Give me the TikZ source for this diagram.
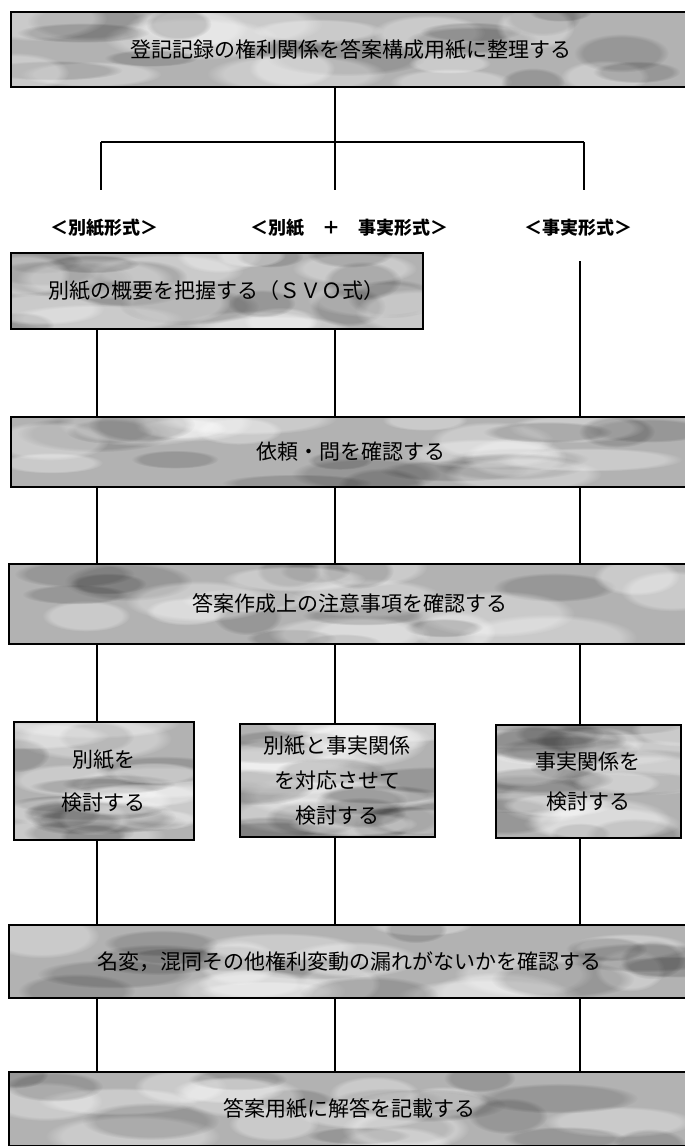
\documentclass[tikz,border=0pt]{standalone}
\usepackage{fontspec}
\usetikzlibrary{calc,fadings}
\newfontfamily\jp{Noto Sans CJK JP}
\begin{document}
\pgfmathsetseed{7}
\begin{tikzpicture}[x=1pt,y=-1pt,
  texture/.style={path picture={
    \path let \p1=(path picture bounding box.south west), \p2=(path picture bounding box.north east) in
      \pgfextra{\xdef\tXa{\x1}\xdef\tXb{\x2}\xdef\tYa{\y1}\xdef\tYb{\y2}};
    \foreach \k in {1,...,14}{
      \pgfmathsetmacro\u{rnd}\pgfmathsetmacro\v{rnd}\pgfmathsetmacro\w{35+60*rnd}\pgfmathsetmacro\h{10+14*rnd}
      \fill[white,opacity=0.32,path fading=circle with fuzzy edge 20 percent,rotate around={-15:({\tXa+\u*(\tXb-\tXa)},{\tYa+\v*(\tYb-\tYa)})}]
        ({\tXa+\u*(\tXb-\tXa)},{\tYa+\v*(\tYb-\tYa)}) ellipse [x radius=\w pt, y radius=\h pt];
      \pgfmathsetmacro\u{rnd}\pgfmathsetmacro\v{rnd}\pgfmathsetmacro\w{30+50*rnd}\pgfmathsetmacro\h{8+12*rnd}
      \fill[black,opacity=0.15,path fading=circle with fuzzy edge 20 percent,rotate around={-15:({\tXa+\u*(\tXb-\tXa)},{\tYa+\v*(\tYb-\tYa)})}]
        ({\tXa+\u*(\tXb-\tXa)},{\tYa+\v*(\tYb-\tYa)}) ellipse [x radius=\w pt, y radius=\h pt];
    }
  }},
  box/.style={draw=black, line width=1.6pt, fill=black!30, texture, anchor=north west, inner sep=0pt, align=center,
    font=\jp\fontsize{21}{26}\selectfont},
  conn/.style={line width=1.6pt},
  lab/.style={font=\jp\bfseries\fontsize{18}{22}\selectfont}]
\path[use as bounding box] (0,0) rectangle (685,1146);
\begin{scope}
\clip (0,0) rectangle (685,1146);
% column positions
\coordinate (cA) at (101,0);
\coordinate (cB) at (335,0);
\coordinate (cC) at (584,0);
\coordinate (cL) at (97,0);
\coordinate (cR) at (580,0);
% boxes
\node[box, minimum width=680pt, minimum height=75pt] (top) at (10,11) {登記記録の権利関係を答案構成用紙に整理する};
\node[box, minimum width=412pt, minimum height=76pt] (b2) at (10,252) {別紙の概要を把握する（ＳＶＯ式）};
\node[box, minimum width=680pt, minimum height=70pt] (b3) at (10,416) {依頼・問を確認する};
\node[box, minimum width=682pt, minimum height=80pt] (b4) at (8,563) {答案作成上の注意事項を確認する};
\node[box, minimum width=180pt, minimum height=118pt, font=\jp\fontsize{21}{43}\selectfont] (sL) at (13,721) {別紙を\\検討する};
\node[box, minimum width=195pt, minimum height=113pt, font=\jp\fontsize{21}{35}\selectfont] (sM) at (239,723) {別紙と事実関係\\を対応させて\\検討する};
\node[box, minimum width=185pt, minimum height=113pt, font=\jp\fontsize{21}{40}\selectfont] (sR) at (495,724) {事実関係を\\検討する};
\node[box, minimum width=682pt, minimum height=73pt] (b5) at (8,924) {名変，混同その他権利変動の漏れがないかを確認する};
\node[box, minimum width=682pt, minimum height=74pt] (b6) at (8,1071) {答案用紙に解答を記載する};
% branch at top
\coordinate (jA) at (101,142);
\coordinate (jB) at (335,142);
\coordinate (jC) at (584,142);
\coordinate (eA) at (101,190);
\coordinate (eB) at (335,190);
\coordinate (eC) at (584,190);
\draw[conn] (top.south -| cB) -- (jB);
\draw[conn] (jA) -- (jC);
\draw[conn] (jA) -- (eA);
\draw[conn] (jB) -- (eB);
\draw[conn] (jC) -- (eC);
\node[lab] (lA) at (104,228) {＜別紙形式＞};
\node[lab] (lB) at (349,228) {＜別紙　＋　事実形式＞};
\node[lab] (lC) at (578,228) {＜事実形式＞};
% box2 to box3
\coordinate (sC) at (580,261);
\draw[conn] (b2.south -| cL) -- (b3.north -| cL);
\draw[conn] (b2.south -| cB) -- (b3.north -| cB);
\draw[conn] (sC) -- (b3.north -| cR);
% box3 to box4
\draw[conn] (b3.south -| cL) -- (b4.north -| cL);
\draw[conn] (b3.south -| cB) -- (b4.north -| cB);
\draw[conn] (b3.south -| cR) -- (b4.north -| cR);
% box4 to small boxes
\draw[conn] (b4.south -| cL) -- (sL.north -| cL);
\draw[conn] (b4.south -| cB) -- (sM.north -| cB);
\draw[conn] (b4.south -| cR) -- (sR.north -| cR);
% small boxes to box5
\draw[conn] (sL.south -| cL) -- (b5.north -| cL);
\draw[conn] (sM.south -| cB) -- (b5.north -| cB);
\draw[conn] (sR.south -| cR) -- (b5.north -| cR);
% box5 to box6
\draw[conn] (b5.south -| cL) -- (b6.north -| cL);
\draw[conn] (b5.south -| cB) -- (b6.north -| cB);
\draw[conn] (b5.south -| cR) -- (b6.north -| cR);
\end{scope}
\end{tikzpicture}
\end{document}
